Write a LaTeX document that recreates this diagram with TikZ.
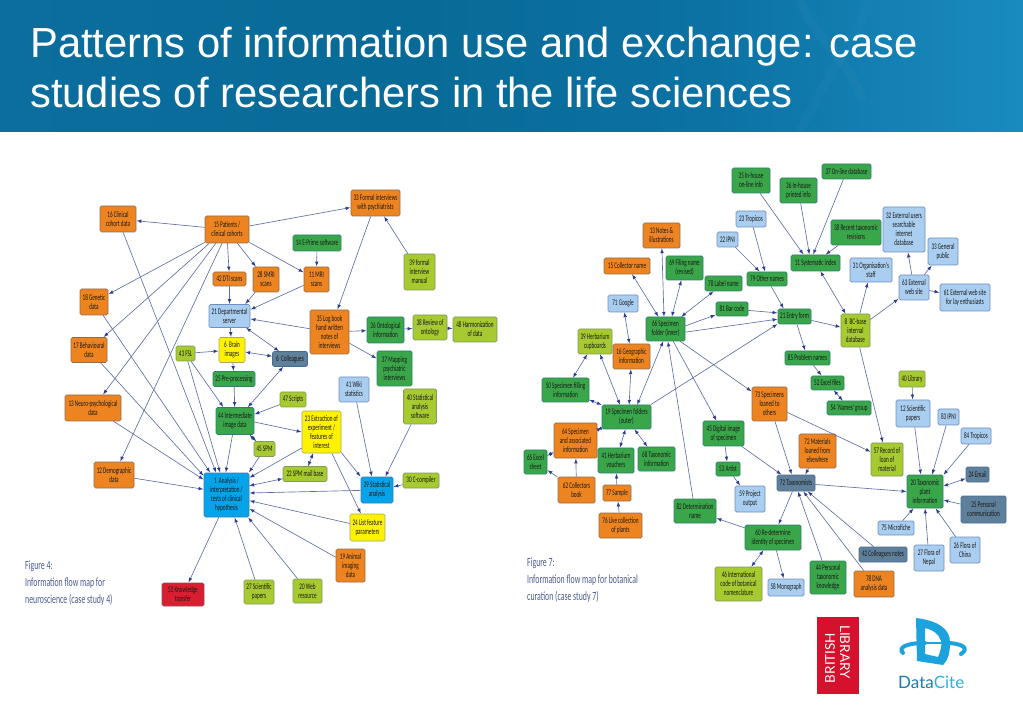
\documentclass[tikz,border=0pt]{standalone}
\usepackage{fontspec}
\setmainfont[FakeStretch=0.993]{Liberation Sans}
\newfontfamily\mapfont[FakeStretch=0.6]{Carlito}
\newfontfamily\capfont[FakeStretch=0.625]{Carlito}
\newfontfamily\logofont{Lato}
\usetikzlibrary{arrows}
\definecolor{hdleft}{HTML}{0C6E9E}
\definecolor{hdmid}{HTML}{086A96}
\definecolor{hdmidb}{HTML}{0C72A4}
\definecolor{hdright}{HTML}{1A8BBF}
\definecolor{orangefill}{HTML}{EE8420}
\definecolor{orangeline}{HTML}{8F6E50}
\definecolor{greenfill}{HTML}{3AA64A}
\definecolor{greenline}{HTML}{2F8070}
\definecolor{limefill}{HTML}{A6CA30}
\definecolor{limeline}{HTML}{7E9A5C}
\definecolor{bluefill}{HTML}{AACEF0}
\definecolor{blueline}{HTML}{6F8FC2}
\definecolor{yellowfill}{HTML}{FFF200}
\definecolor{yellowline}{HTML}{A8A860}
\definecolor{cyanfill}{HTML}{04A3EA}
\definecolor{cyanline}{HTML}{3A7FB0}
\definecolor{slatefill}{HTML}{5F809A}
\definecolor{slateline}{HTML}{4A6A90}
\definecolor{redfill}{HTML}{D81F30}
\definecolor{redline}{HTML}{8C4A60}
\definecolor{flowline}{HTML}{5F6FA5}
\definecolor{flowtip}{HTML}{2B3C92}
\definecolor{captext}{HTML}{4A5B8E}
\definecolor{blred}{HTML}{D5112E}
\definecolor{dcblue}{HTML}{1CA3DE}
\definecolor{dcdark}{HTML}{1B7DA6}
\definecolor{dclight}{HTML}{2DB0E6}
\pgfdeclarehorizontalshading{hdshade}{100bp}{color(0bp)=(hdleft); color(25bp)=(hdleft); color(45bp)=(hdmid);
  color(60bp)=(hdmidb); color(75bp)=(hdright); color(100bp)=(hdright)}
\tikzset{
  mapbox/.style={rounded corners=1.5pt,line width=0.7pt,inner sep=0.5pt,align=center,text=black!90,
    font=\mapfont\fontsize{8.6}{9}\selectfont},
  sz/.style 2 args={minimum width=#1pt,minimum height=#2pt},
  orangebox/.style={mapbox,fill=orangefill,draw=orangeline},
  greenbox/.style={mapbox,fill=greenfill,draw=greenline},
  limebox/.style={mapbox,fill=limefill,draw=limeline},
  bluebox/.style={mapbox,fill=bluefill,draw=blueline},
  yellowbox/.style={mapbox,fill=yellowfill,draw=yellowline},
  cyanbox/.style={mapbox,fill=cyanfill,draw=cyanline},
  slatebox/.style={mapbox,fill=slatefill,draw=slateline},
  redbox/.style={mapbox,fill=redfill,draw=redline},
  flow/.style={draw=flowline,line width=0.65pt,-{latex[flowtip]},shorten >=0.3pt},
  bothflow/.style={draw=flowline,line width=0.65pt,{latex[flowtip]}-{latex[flowtip]}},
  titletext/.style={anchor=base west,inner sep=0pt,text=white,font=\fontsize{42}{50}\selectfont},
  figcaption/.style={anchor=west,inner sep=0pt,align=left,text=captext,font=\capfont\fontsize{12.5}{17}\selectfont}
}
\begin{document}
\begin{tikzpicture}[x=1pt,y=-1pt]
\useasboundingbox (0,0) rectangle (1023,708);
% header band
\shade[shading=hdshade] (0,0) rectangle (1023,132);
\draw[white,opacity=0.025,line width=9pt] (800,0) .. controls (815,40) and (850,60) .. (862,100);
\draw[white,opacity=0.02,line width=9pt] (870,0) .. controls (860,30) and (830,70) .. (800,132);
\node[titletext] (title1) at (30,58) {Patterns of information use and exchange: case};
\node[titletext] (title2) at (30,108) {studies of researchers in the life sciences};

% left map, figure 4
\node[orangebox,sz={36}{26}] (a16) at (118,219) {16 Clinical\\cohort data};
\node[orangebox,sz={44}{27}] (a15) at (227,229.5) {15 Patients /\\clinical cohorts};
\node[orangebox,sz={28}{26}] (a18) at (94,302) {18 Genetic\\data};
\node[orangebox,sz={33}{14}] (a42) at (229.5,279) {42 DTI scans};
\node[orangebox,sz={26}{25}] (a28) at (266,279.5) {28 SMRI\\scans};
\node[orangebox,sz={25}{25}] (a11) at (316.5,279.5) {11 MRI\\scans};
\node[orangebox,sz={49}{26}] (a33) at (375.5,203) {33 Formal interviews\\with psychiatrists};
\node[greenbox,sz={48}{16}] (a14) at (317,243) {14 E-Prime software};
\node[limebox,sz={31}{36}] (a39) at (419.5,272) {39 formal\\interview\\manual};
\node[bluebox,sz={41}{23}] (a21) at (229.5,316) {21 Departmental\\server};
\node[yellowbox,sz={26}{25}] (abrain) at (232,350) {6 \ Brain\\images};
\node[limebox,sz={19}{15}] (a43) at (185.5,353.5) {43 FSL};
\node[slatebox,sz={35}{15}] (acoll) at (290,359) {6 \ Colleagues};
\node[greenbox,sz={42}{15}] (a25) at (234,379) {25 Pre-processing};
\node[orangebox,sz={36}{25}] (a17) at (89,350) {17 Behavioural\\data};
\node[orangebox,sz={56}{26}] (a13) at (93,408) {13 Neuro-psychological\\data};
\node[greenbox,sz={38}{27}] (a44) at (235,421) {44 Intermediate\\image data};
\node[limebox,sz={21}{15}] (a45) at (264.5,449) {45 SPM};
\node[orangebox,sz={40}{26}] (a12) at (114,475) {12 Demographic\\data};
\node[cyanbox,sz={45}{44}] (a1) at (226.5,495) {1 \ Analysis /\\interpretation /\\tests of clinical\\hypothesis};
\node[redbox,sz={42}{23}] (a52) at (183,594.5) {52 Knowledge\\transfer};
\node[limebox,sz={30}{24}] (a27) at (259,592) {27 Scientific\\papers};
\node[limebox,sz={29}{24}] (a20) at (307.5,591) {20 Web\\resource};
\node[limebox,sz={26}{15}] (a47) at (293,399.5) {47 Scripts};
\node[yellowbox,sz={39}{42}] (a23) at (321.5,432) {23 Extraction of\\experiment /\\features of\\interest};
\node[limebox,sz={44}{15}] (a22) at (305,474) {22 SPM mail base};
\node[bluebox,sz={30}{25}] (a41) at (354,389.5) {41 Wiki\\statistics};
\node[limebox,sz={33}{35}] (a40) at (420,406.5) {40 Statistical\\analysis\\software};
\node[cyanbox,sz={32}{26}] (a29) at (377,490) {29 Statistical\\analysis};
\node[limebox,sz={36}{15}] (a30) at (421,480.5) {30 C-compiler};
\node[yellowbox,sz={35}{27}] (a24) at (367.5,527.5) {24 List feature\\parameters};
\node[orangebox,sz={29}{33}] (a19) at (350.5,565.5) {19 Animal\\imaging\\data};
\node[orangebox,sz={39}{44}] (a35) at (329.5,332) {35 Log book\\hand written\\notes of\\interviews};
\node[greenbox,sz={37}{26}] (a36) at (385.5,330) {36 Ontological\\information};
\node[limebox,sz={34}{25}] (a38) at (430,327.5) {38 Review of\\ontology};
\node[limebox,sz={44}{25}] (a48) at (475,329.5) {48 Harmonization\\of data};
\node[greenbox,sz={35}{35}] (a37) at (394.5,368.5) {37 Mapping\\psychiatric\\interviews};
\node[figcaption] (cap4) at (25,583) {Figure 4:\\Information flow map for\\neuroscience (case study 4)};

\foreach \s/\t in {a15/a16,a15.9/a33,a15.210/a18,a15.218/a17,a15.231/a13,a15.250/a12,a15.272/a42,a15.-53/a28,a15.-30/a11,
  a42/a21,a28/a21.37,a11/a21.17,a35/a21.-8,a33/a35,a39/a33,a14/a11,a21/abrain,a43/abrain,abrain/a25,
  a25/a44,a43/a44.130,a47/a44.19,a44.-3/a23.180,a44/a1.92,a45/a1.45,a43/a1.106,a16/a1.115,a18/a1.126,a17/a1.140,a13/a1.146,a12/a1.166,
  a23.219/a1.37,a29/a1.5,a24/a1.-14,a19/a1.-31,a27/a1.-70,a20/a1.-46,a1.-109/a52,a23.-46/a29.141,a23.-64/a24,a41/a29.111,a40/a29.58,a30/a29.11,
  a35/a36,a36/a38,a38/a48,a35/a37}
  \draw[flow] (\s) -- (\t);
\foreach \s/\t in {a21/acoll,abrain/acoll,acoll/a44.47,a44/a45,a22/a1.22,a23/a22}
  \draw[bothflow] (\s) -- (\t);

% right map, figure 7
\node[orangebox,sz={37}{25}] (b13) at (661.5,235.5) {13 Notes \&\\illustrations};
\node[orangebox,sz={46}{16}] (b15) at (627,266) {15 Collector name};
\node[greenbox,sz={37}{24}] (b69) at (684.5,268) {69 Filing name\\(revised)};
\node[greenbox,sz={37}{15}] (blabel) at (723.5,283.5) {78 Label name};
\node[bluebox,sz={30}{17}] (b71) at (623,303.5) {71 Google};
\node[bluebox,sz={21}{15}] (b22) at (727.5,239.5) {22 IPNI};
\node[bluebox,sz={30}{16}] (b23) at (751,219) {23 Tropicos};
\node[greenbox,sz={32}{14}] (b81) at (732,309) {81 Bar code};
\node[greenbox,sz={39}{24}] (b66) at (665.5,329) {66 Specimen\\folder (inner)};
\node[limebox,sz={34}{25}] (b39) at (595,341.5) {39 Herbarium\\cupboards};
\node[orangebox,sz={37}{25}] (b16) at (631.5,356.5) {16 Geographic\\information};
\node[greenbox,sz={47}{24}] (b50) at (565.5,390) {50 Specimen filling\\information};
\node[greenbox,sz={49}{24}] (b19) at (626.5,417) {19 Specimen folders\\(outer)};
\node[greenbox,sz={41}{25}] (b45) at (723.5,433.5) {45 Digital image\\of specimen};
\node[orangebox,sz={43}{35}] (b64) at (575.5,440.5) {64 Specimen\\and associated\\information};
\node[greenbox,sz={36}{25}] (b41) at (616,460.5) {41 Herbarium\\vouchers};
\node[greenbox,sz={37}{24}] (b68) at (656.5,459) {68 Taxonomic\\information};
\node[greenbox,sz={23}{24}] (b65) at (535.5,462) {65 Excel\\sheet};
\node[orangebox,sz={37}{26}] (b62) at (576.5,490) {62 Collectors\\book};
\node[orangebox,sz={28}{16}] (b77) at (617,493) {77 Sample};
\node[orangebox,sz={43}{25}] (b76) at (620.5,525.5) {76 Live collection\\of plants};
\node[greenbox,sz={24}{14}] (b53) at (728,469) {53 Artist};
\node[bluebox,sz={30}{26}] (b59) at (750,499) {59 Project\\output};
\node[greenbox,sz={42}{24}] (b82) at (695,511) {82 Determination\\name};
\node[greenbox,sz={56}{25}] (b60) at (773,537.5) {60 Re-determine\\identity of specimen};
\node[limebox,sz={47}{34}] (b46) at (738.5,584) {46 International\\code of botanical\\nomenclature};
\node[bluebox,sz={36}{17}] (b58) at (786,587.5) {58 Monograph};
\node[greenbox,sz={36}{33}] (b44) at (828,577.5) {44 Personal\\taxonomic\\knowledge};
\node[orangebox,sz={40}{26}] (bdna) at (874,584) {78 DNA\\analysis data};
\node[slatebox,sz={48}{15}] (b42) at (883,554.5) {42 Colleagues notes};
\node[slatebox,sz={38}{16}] (btax) at (796,483) {72 Taxonomists};
\node[orangebox,sz={37}{34}] (bmat) at (817.5,451) {72 Materials\\loaned from\\elsewhere};
\node[orangebox,sz={35}{34}] (b73) at (769.5,404) {73 Specimens\\loaned to\\others};
\node[greenbox,sz={33}{14}] (b52) at (827.5,383) {52 Excel files};
\node[greenbox,sz={44}{14}] (b54) at (849,408) {54 `Names' group};
\node[greenbox,sz={45}{14}] (b85) at (807.5,358) {85 Problem names};
\node[greenbox,sz={33}{15}] (b21) at (794.5,316.5) {21 Entry form};
\node[greenbox,sz={40}{14}] (b79) at (767,279) {79 Other names};
\node[greenbox,sz={49}{16}] (b11) at (815.5,263) {11 Systematic index};
\node[greenbox,sz={38}{25}] (b35) at (751,180.5) {35 In-house\\on-line info};
\node[greenbox,sz={37}{25}] (b36) at (798.5,190.5) {36 In-house\\printed info};
\node[greenbox,sz={49}{15}] (b37) at (846.5,171.5) {37 On-line database};
\node[greenbox,sz={50}{25}] (b38) at (856,232.5) {38 Recent taxonomic\\revisions};
\node[bluebox,sz={42}{24}] (b31) at (871,270) {31 Organisation's\\staff};
\node[bluebox,sz={42}{45}] (b32) at (904,229.5) {32 External users\\searchable\\internet\\database};
\node[bluebox,sz={30}{27}] (b33) at (943,251.5) {33 General\\public};
\node[bluebox,sz={30}{25}] (b63) at (914,287.5) {63 External\\web site};
\node[bluebox,sz={50}{27}] (b61) at (965,297.5) {61 External web site\\for lay enthusiasts};
\node[limebox,sz={29}{33}] (b8) at (855.5,330.5) {8 \ BC-base\\internal\\database};
\node[limebox,sz={26}{16}] (b40) at (912,379) {40 Library};
\node[bluebox,sz={34}{27}] (b12) at (913,413.5) {12 Scientific\\papers};
\node[bluebox,sz={21}{16}] (b83) at (948.5,417) {83 IPNI};
\node[bluebox,sz={30}{16}] (b84) at (976,436) {84 Tropicos};
\node[slatebox,sz={23}{15}] (b24) at (977.5,474.5) {24 Email};
\node[slatebox,sz={45}{27}] (b25) at (983.5,509.5) {25 Personal\\communication};
\node[greenbox,sz={36}{33}] (b20) at (925,491.5) {20 Taxonomic\\plant\\information};
\node[limebox,sz={32}{33}] (b57) at (887,459.5) {57 Record of\\loan of\\material};
\node[bluebox,sz={36}{14}] (b75) at (896,528) {75 Microfiche};
\node[bluebox,sz={30}{26}] (b27) at (929,558) {27 Flora of\\Nepal};
\node[bluebox,sz={30}{26}] (b26) at (965,550) {26 Flora of\\China};
\node[figcaption] (cap7) at (527,580) {Figure 7:\\Information flow map for botanical\\curation (case study 7)};

\foreach \s/\t in {b66.9/b81,b66.-9/b21.189,b19.27/b21.204,b66.-40/b73,b66.-58/b45,b82/b66.-79,b62/b65,b62/b64,b77/b41,b76/b77,
  b45/b53,b53/b59,b45/btax.150,b73/btax.117,b73/b57,bmat/btax.42,btax/b60,b60/b82,b60/b58,b44/btax.-77,bdna/btax.-49,
  b42/btax.-36,btax/b20.180,b12/b20.104,b83/b20.67,b84/b20.42,b25/b20.-25,b75/b20.-124,b27/b20.-90,b26/b20.-58,b40/b12,b8/b57,
  b21/b8,b21/b85,b85/b52,b81/b21.168,b79/b21.144,b22/b79,b23/b79,b35/b11.145,b36/b11.126,b37/b11.106,b38/b11.40,
  b8/b31,b8/b63,b63/b32,b63/b33,b63/b61}
  \draw[flow] (\s) -- (\t);
\foreach \s/\t in {b66.120/b15,b66.97/b13,b66.63/b69,b66.38/blabel,b16/b71,b39/b50,b39/b19.118,b16/b19.78,b19.49/b66.-101,b50/b19.154,
  b19.204/b64,b19.-95/b41,b19.-57/b68,b64/b65,b60/b46,b24/b20.16,b52/b54,b11/b8}
  \draw[bothflow] (\s) -- (\t);

% logos
\fill[blred] (817,617) rectangle (859,694);
\node[rotate=90,inner sep=0pt,text=white,font=\logofont\fontsize{13.5}{13.5}\selectfont] (bltext1) at (830,658) {BRITISH};
\node[rotate=-90,inner sep=0pt,text=white,font=\logofont\fontsize{13.5}{13.5}\selectfont] (bltext2) at (845,652) {LIBRARY};
\draw[dcblue,line width=4pt,line cap=round] (925,643) .. controls (905,643) and (898,648) .. (903,653);
\draw[dcblue,line width=4pt,line cap=round] (945,643) .. controls (962,643) and (970,648) .. (961,654);
\draw[dcblue,line width=2.5pt] (925,643) -- (943,643);
\fill[dcblue,even odd rule] (916,618) .. controls (940,621) and (950,630) .. (950,642) .. controls (950,654) and (948,660) .. (943,665) -- (917,661) -- cycle
  (925,628) -- (925,654) -- (938,657) .. controls (941,650) and (942,645) .. (941,641) .. controls (939,634) and (933,630) .. (925,628) -- cycle;
\node[inner sep=0pt,anchor=base west,font=\logofont\fontsize{17}{17}\selectfont] (dctext) at (898,688) {\textcolor{dcdark}{Data}\textcolor{dclight}{Cite}};
\end{tikzpicture}
\end{document}
